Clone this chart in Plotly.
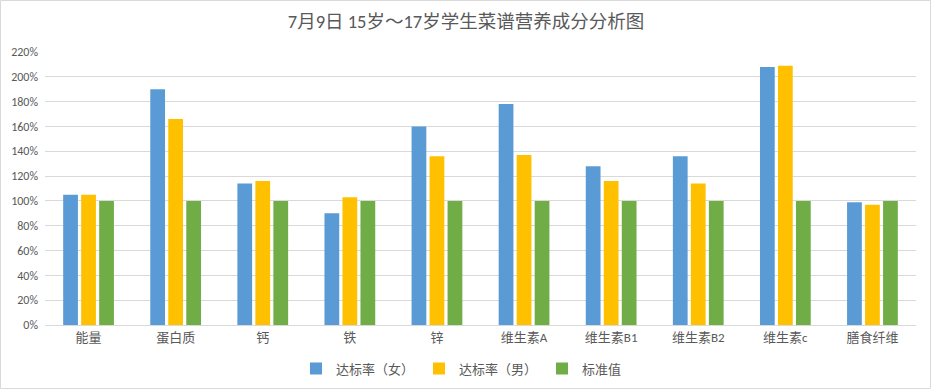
import plotly.graph_objects as go

categories = ["能量", "蛋白质", "钙", "铁", "锌", "维生素A", "维生素B1", "维生素B2", "维生素c", "膳食纤维"]
female = [1.05, 1.90, 1.14, 0.90, 1.60, 1.78, 1.28, 1.36, 2.08, 0.99]
male = [1.05, 1.66, 1.16, 1.03, 1.36, 1.37, 1.16, 1.14, 2.09, 0.97]
standard = [1.00, 1.00, 1.00, 1.00, 1.00, 1.00, 1.00, 1.00, 1.00, 1.00]
series_names = ["达标率（女）", "达标率（男）", "标准值"]
colors = ["#5b9bd5", "#ffc000", "#70ad47"]
tick_vals = [i / 5 for i in range(12)]
tick_text = [f"{i * 20}%" for i in range(12)]

FONT = "Calibri, Carlito, 'Noto Sans CJK SC', sans-serif"
L, R, T, B = 45, 16, 52, 65
PW, PH = 932 - L - R, 390 - T - B

fig = go.Figure()
for name, vals, c in zip(series_names, [female, male, standard], colors):
    fig.add_trace(go.Bar(x=categories, y=vals, name=name, marker=dict(color=c, line_width=0)))

fig.update_layout(
    width=932, height=390,
    paper_bgcolor="white", plot_bgcolor="white",
    margin=dict(l=L, r=R, t=T, b=B, autoexpand=False),
    barmode="group", bargap=0.38, bargroupgap=0.18,
    font=dict(family=FONT, color="#595959", size=12),
    title=dict(text="7月9日 15岁～17岁学生菜谱营养成分分析图", x=0.5, xanchor="center",
               y=0.945, yanchor="middle", font=dict(size=18.5, color="#595959", family=FONT)),
    legend=dict(orientation="h", x=0.5, xanchor="center", y=-0.105, yanchor="top",
                font=dict(size=13, color="#595959"), itemwidth=30, traceorder="normal",
                entrywidth=78, entrywidthmode="pixels", itemclick=False),
    showlegend=True,
)
fig.update_yaxes(range=[0, 2.2], tickvals=tick_vals, ticktext=tick_text, showgrid=True,
                 gridcolor="#d9d9d9", gridwidth=1, zeroline=False, showline=False,
                 ticks="", tickfont=dict(size=12, color="#595959"), ticklabelstandoff=6,
                 automargin=False)
fig.update_xaxes(showline=True, linecolor="#d9d9d9", linewidth=1, ticks="",
                 tickfont=dict(size=13, color="#595959"), automargin=False)
fig.add_shape(type="rect", xref="paper", yref="paper",
              x0=-(L - 0.5) / PW, x1=1 + (R - 1.5) / PW, y0=-(B - 1.5) / PH, y1=1 + (T - 0.5) / PH,
              line=dict(color="#d9d9d9", width=1), fillcolor="rgba(0,0,0,0)", layer="below")

fig.write_html("out.html", config={"displayModeBar": False},
               post_script="document.body.style.margin='0';")
